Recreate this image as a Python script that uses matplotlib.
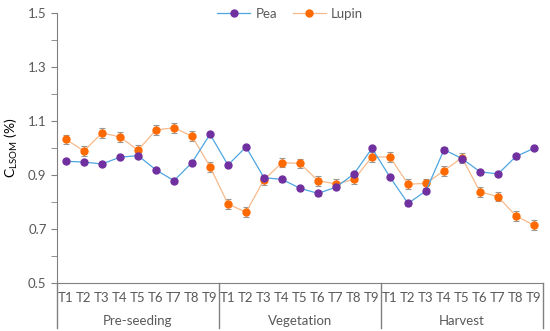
from matplotlib import pyplot as plt
from matplotlib.lines import Line2D
import numpy as np

plt.rcParams['font.family'] = ['Lato', 'DejaVu Sans']

groups = ["Pre-seeding", "Vegetation", "Harvest"]
treatments = ["T1", "T2", "T3", "T4", "T5", "T6", "T7", "T8", "T9"]

pea = [0.952, 0.949, 0.942, 0.967, 0.973, 0.920, 0.880, 0.947, 1.052,
       0.938, 1.005, 0.891, 0.885, 0.852, 0.833, 0.856, 0.905, 1.000,
       0.893, 0.796, 0.842, 0.995, 0.962, 0.913, 0.905, 0.970, 1.000]
pea_err = [0.008] * 27

lupin = [1.033, 0.990, 1.057, 1.042, 0.993, 1.068, 1.076, 1.045, 0.932,
         0.794, 0.763, 0.883, 0.947, 0.944, 0.880, 0.868, 0.885, 0.968,
         0.968, 0.867, 0.870, 0.917, 0.965, 0.839, 0.821, 0.749, 0.715]
lupin_err = [0.018] * 27

grey = "#808080"
x = np.arange(len(pea))

fig = plt.figure(figsize=(5.5, 3.31), dpi=100)
ax = fig.add_axes([57 / 550, 1 - 283.3 / 331, 486 / 550, 270 / 331])

pea_style = dict(color="#4da6e0", lw=0.9, marker="o", ms=5, mfc="#7030a0", mec="#7030a0")
lupin_style = dict(color="#f8b98a", lw=0.9, marker="o", ms=5, mfc="#ff6a00", mec="#ff6a00")

ax.errorbar(x, pea, yerr=pea_err, ecolor="#999999", elinewidth=0.8,
            capsize=2.5, capthick=0.8, zorder=3, **pea_style)
ax.errorbar(x, lupin, yerr=lupin_err, ecolor="#999999", elinewidth=0.8,
            capsize=2.5, capthick=0.8, zorder=2, **lupin_style)

ax.set_xlim(-0.5, len(pea) - 0.5)
ax.set_ylim(0.5, 1.5)
ax.set_yticks(np.arange(0.5, 1.51, 0.2))
ax.set_yticks(np.arange(0.6, 1.5, 0.2), minor=True)
ax.set_yticklabels([f"{v:.1f}" for v in np.arange(0.5, 1.51, 0.2)])
ax.tick_params(axis="y", which="both", colors=grey, labelcolor="#595959",
               labelsize=9.5, length=4, direction="out")
ax.set_xticks(x)
ax.set_xticklabels(treatments * 3)
ax.tick_params(axis="x", length=0, labelsize=9.5, labelcolor="#595959", pad=6)

for s in ["top", "right"]:
    ax.spines[s].set_visible(False)
ax.spines["left"].set_color(grey)
ax.spines["bottom"].set_color(grey)

ax.set_ylabel(r"C$_{\mathregular{LSOM}}$ (%)", fontsize=10, color="black", labelpad=6)

# group labels and separators below the axis
for i, g in enumerate(groups):
    ax.text(i * 9 + 4, -0.139, g, transform=ax.get_xaxis_transform(),
            ha="center", va="center", fontsize=9.5, color="#595959")
for b in range(4):
    ax.plot([b * 9 - 0.5] * 2, [0, -0.165], transform=ax.get_xaxis_transform(),
            color=grey, lw=1, clip_on=False)

handles = [Line2D([], [], **pea_style), Line2D([], [], **lupin_style)]
ax.legend(handles, ["Pea", "Lupin"], loc="upper center", bbox_to_anchor=(0.48, 1.065),
          ncol=2, frameon=False, fontsize=9.5, labelcolor="#595959", handlelength=2.5,
          columnspacing=1.2, handletextpad=0.4)

plt.savefig("out.png", dpi=100)
plt.close()
